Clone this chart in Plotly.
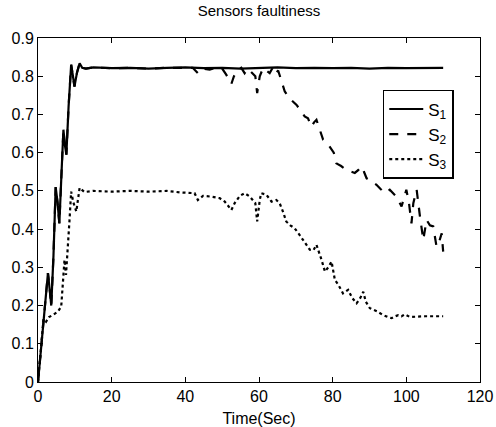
import plotly.graph_objects as go

s1_t = [0, 0.9, 1.8, 2.7, 3.2, 3.6, 4.2, 4.8, 5.3, 5.8, 6.4, 6.9, 7.3, 7.7, 8.3, 9.0, 9.5, 9.9,
        10.6, 11.3, 12, 13, 15, 20, 25, 30, 35, 40, 45, 50, 55, 60, 65, 70, 75, 80, 85, 90, 95,
        100, 105, 110]
s1_v = [0, 0.10, 0.19, 0.285, 0.24, 0.20, 0.33, 0.51, 0.47, 0.415, 0.55, 0.66, 0.62, 0.595,
        0.72, 0.83, 0.80, 0.773, 0.81, 0.834, 0.822, 0.82, 0.823, 0.821, 0.822, 0.82, 0.822,
        0.823, 0.821, 0.822, 0.82, 0.822, 0.823, 0.821, 0.822, 0.821, 0.822, 0.82, 0.822, 0.821,
        0.822, 0.822]

s2_t = [0, 0.9, 1.8, 2.7, 3.2, 3.6, 4.2, 4.8, 5.3, 5.8, 6.4, 6.9, 7.3, 7.7, 8.3, 9.0, 9.5, 9.9,
        10.6, 11.3, 12, 13, 15, 20, 25, 30, 35, 40, 42, 43.4, 44.5, 46.6, 48, 50, 51.1, 52.5,
        53.2, 54.3, 55.2, 56.1, 57, 58, 59, 59.5, 60.2, 61.1, 62, 62.9, 63.6, 64.3, 65.2, 66.1,
        67, 68.5, 70.2, 71.3, 72.4, 73.3, 74.2, 75, 75.6, 76.5, 77.4, 78.5, 79.7, 80.3, 81, 82.3,
        83.7, 85, 86, 87, 87.8, 88.5, 89.2, 90.5, 91.9, 93, 94.2, 95.5, 96.4, 97.3, 98.7, 99.3,
        100, 100.7, 101.4, 101.9, 102.8, 103.7, 104.6, 105.5, 106.4, 107.3, 108.2, 109, 109.6,
        110]
s2_v = [0, 0.10, 0.19, 0.285, 0.24, 0.20, 0.33, 0.51, 0.47, 0.415, 0.55, 0.66, 0.62, 0.595,
        0.72, 0.83, 0.80, 0.773, 0.81, 0.834, 0.822, 0.82, 0.823, 0.821, 0.822, 0.82, 0.822,
        0.823, 0.822, 0.808, 0.82, 0.817, 0.822, 0.82, 0.804, 0.78, 0.80, 0.817, 0.822, 0.808,
        0.82, 0.81, 0.80, 0.756, 0.80, 0.821, 0.815, 0.808, 0.82, 0.804, 0.815, 0.79, 0.76,
        0.74, 0.725, 0.71, 0.695, 0.69, 0.668, 0.68, 0.686, 0.66, 0.634, 0.625, 0.607, 0.60,
        0.572, 0.565, 0.555, 0.55, 0.547, 0.555, 0.564, 0.55, 0.533, 0.525, 0.516, 0.505,
        0.494, 0.503, 0.495, 0.485, 0.459, 0.48, 0.503, 0.47, 0.415, 0.468, 0.503, 0.433,
        0.372, 0.424, 0.41, 0.407, 0.354, 0.37, 0.389, 0.341]

s3_t = [0, 0.9, 1.5, 2.2, 3, 4, 5.4, 6.3, 6.8, 7.2, 7.6, 8.0, 8.56, 9.0, 9.6, 10.4, 11.3, 12.6,
        15, 20, 25, 30, 35, 38.5, 42.5, 43.4, 44.8, 47, 49.3, 50.7, 52.5, 53.4, 54.8, 56.1,
        57.5, 59.0, 59.5, 60.2, 60.6, 62, 63.4, 64.7, 65.6, 66.5, 67.4, 68.5, 69.7, 71, 72,
        73.8, 74.8, 75.6, 77, 77.9, 78.8, 79.7, 80.6, 81.5, 82.8, 84.2, 85.3, 86.5, 87.5, 88.3,
        89, 90.1, 92, 93.7, 95, 96, 97, 97.8, 98.7, 99.6, 101, 103, 105, 110]
s3_v = [0, 0.10, 0.165, 0.158, 0.17, 0.175, 0.184, 0.197, 0.28, 0.32, 0.28, 0.33, 0.424, 0.498,
        0.47, 0.446, 0.508, 0.497, 0.5, 0.498, 0.5, 0.498, 0.5, 0.496, 0.494, 0.476, 0.487,
        0.485, 0.481, 0.472, 0.45, 0.468, 0.487, 0.494, 0.485, 0.468, 0.42, 0.476, 0.494, 0.49,
        0.472, 0.476, 0.468, 0.446, 0.42, 0.41, 0.402, 0.385, 0.372, 0.346, 0.345, 0.359, 0.319,
        0.289, 0.30, 0.315, 0.267, 0.255, 0.232, 0.241, 0.22, 0.206, 0.22, 0.236, 0.21, 0.193,
        0.185, 0.175, 0.17, 0.167, 0.172, 0.175, 0.172, 0.177, 0.17, 0.171, 0.172, 0.172]

fig = go.Figure()
fig.add_trace(go.Scatter(x=s1_t, y=s1_v, mode="lines", name="S<sub>1</sub>",
                         line=dict(color="black", width=2.2, dash="solid")))
fig.add_trace(go.Scatter(x=s2_t, y=s2_v, mode="lines", name="S<sub>2</sub>",
                         line=dict(color="black", width=2.2, dash="dash")))
fig.add_trace(go.Scatter(x=s3_t, y=s3_v, mode="lines", name="S<sub>3</sub>",
                         line=dict(color="black", width=2.2, dash="dot")))

axis_common = dict(showline=True, linecolor="black", linewidth=1, mirror="ticks",
                   ticks="inside", ticklen=5, tickcolor="black", showgrid=False,
                   zeroline=False, automargin=False, tickfont=dict(size=16, color="black"))

fig.update_layout(
    width=496, height=427,
    margin=dict(l=38, r=16, t=38, b=45),
    paper_bgcolor="white", plot_bgcolor="white",
    font=dict(family="Liberation Sans, Arial, sans-serif", size=16, color="black"),
    title=dict(text="Sensors faultiness", x=0.5, xref="paper", xanchor="center",
               y=0.974, yanchor="middle", font=dict(size=15, color="black")),
    xaxis=dict(range=[0, 120], tickvals=[0, 20, 40, 60, 80, 100, 120],
               title=dict(text="Time(Sec)", standoff=8, font=dict(size=16)), **axis_common),
    yaxis=dict(range=[0, 0.9], tickvals=[0, 0.1, 0.2, 0.3, 0.4, 0.5, 0.6, 0.7, 0.8, 0.9],
               ticktext=["0", "0.1", "0.2", "0.3", "0.4", "0.5", "0.6", "0.7", "0.8", "0.9"],
               **axis_common),
    legend=dict(x=0.78, y=0.849, xanchor="left", yanchor="top", bgcolor="white",
                bordercolor="black", borderwidth=1.5, font=dict(size=17, color="black"),
                tracegroupgap=0, itemwidth=34),
    showlegend=True,
)

fig.write_html("out.html", config={"displayModeBar": False},
               post_script="document.body.style.margin='0px';document.body.style.padding='0px';")
